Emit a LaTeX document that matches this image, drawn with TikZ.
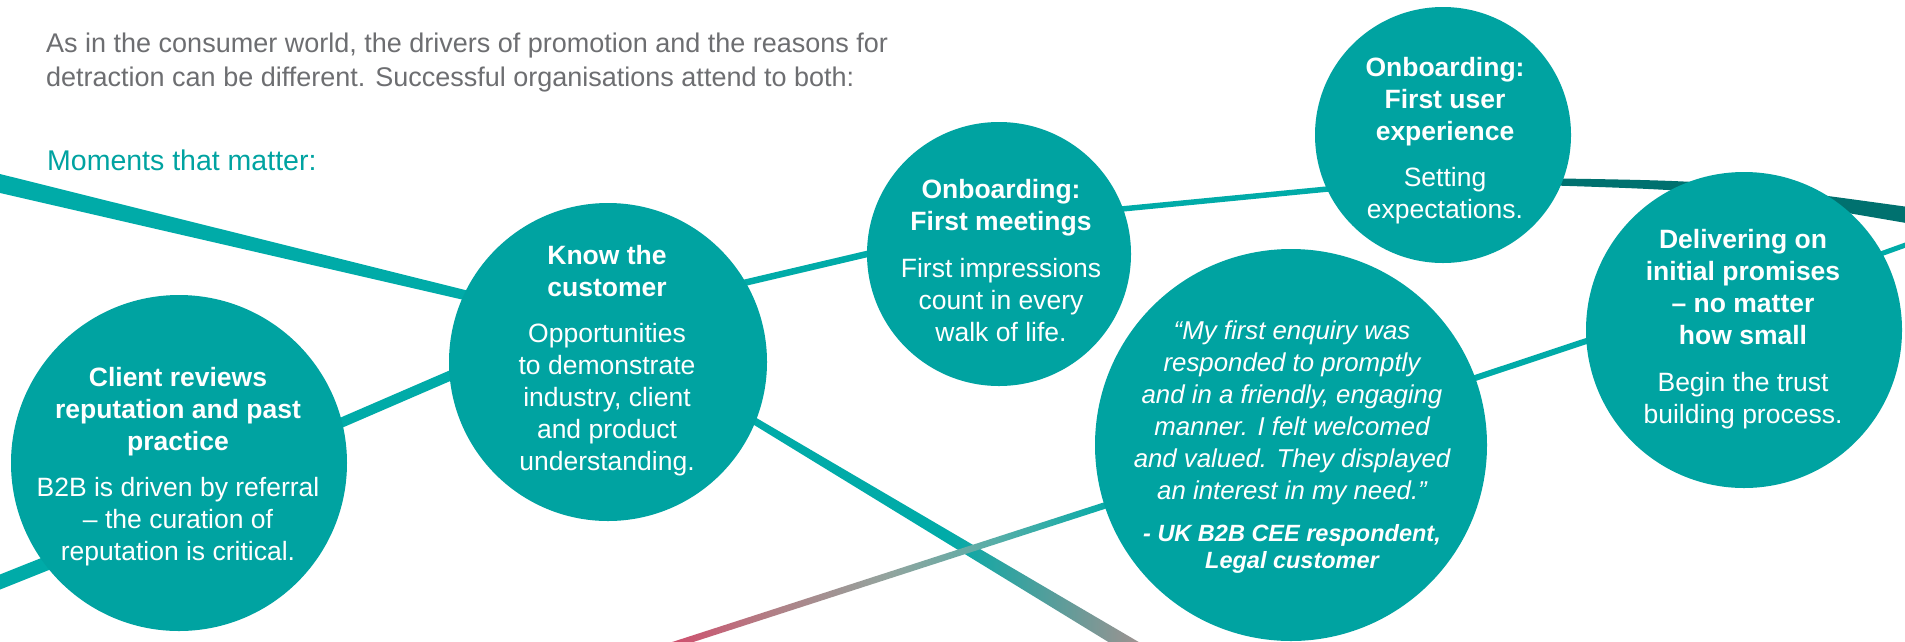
\documentclass[tikz,border=0pt]{standalone}
\usepackage{fontspec}
\setmainfont{Liberation Sans}
\usetikzlibrary{calc,backgrounds}
\definecolor{kteal}{HTML}{00A3A1}
\definecolor{lteal}{HTML}{00ABA8}
\definecolor{dteal}{HTML}{00716F}
\definecolor{kpink}{HTML}{D4486A}
\definecolor{krose}{HTML}{B27E85}
\definecolor{kgreyteal}{HTML}{93A49E}
\definecolor{klteal}{HTML}{55AEA8}
\definecolor{kmauve}{HTML}{A6918F}
\definecolor{titlegrey}{HTML}{6D6E71}
\pgfdeclarehorizontalshading{tealfade}{100bp}{color(0bp)=(lteal); color(50bp)=(lteal); color(75bp)=(kmauve); color(100bp)=(kmauve)}
\pgfdeclarehorizontalshading{pinkfade}{100bp}{color(0bp)=(kpink); color(25bp)=(kpink); color(37bp)=(krose); color(50bp)=(kgreyteal); color(62bp)=(klteal); color(75bp)=(lteal); color(100bp)=(lteal)}
\newcommand{\mystrut}[1]{\rule{0pt}{#1pt}}
\tikzset{
  moment/.style={circle, fill=kteal, inner sep=0pt, outer sep=0pt},
  txt/.style={anchor=north, align=center, inner sep=0pt, text=white},
  headtxt/.style={txt, font=\fontsize{26.5}{32}\selectfont\bfseries},
  bodytxt/.style={txt, font=\fontsize{26.5}{32}\selectfont},
  quotetxt/.style={txt, font=\fontsize{25.8}{32}\selectfont\itshape},
  attrtxt/.style={txt, font=\fontsize{23.5}{27}\selectfont\bfseries\itshape},
  link/.style={lteal, shorten <=-8pt, shorten >=-8pt}
}
\begin{document}
\begin{tikzpicture}[x=1pt, y=-1pt]
\useasboundingbox (0,0) rectangle (1905,641);

% header texts
\node[anchor=north west, align=left, inner sep=0pt, text=titlegrey,
      font=\fontsize{27}{34}\selectfont] (title) at (46,25.5)
  {\mystrut{27}As in the consumer world, the drivers of promotion and the reasons for\\detraction can be different. Successful organisations attend to both:};
\node[anchor=north west, inner sep=0pt, text=kteal,
      font=\fontsize{28.5}{34}\selectfont] (moments) at (47,141.5)
  {\mystrut{28.5}Moments that matter:};

% circles
\node[moment, minimum size=336pt] (A) at (179,463) {};
\node[moment, minimum size=318pt] (B) at (608,362) {};
\node[moment, minimum size=264pt] (C) at (999,254) {};
\node[moment, minimum size=256pt] (D) at (1443,135) {};
\node[moment, minimum size=392pt] (E) at (1291,445) {};
\node[moment, minimum size=316pt] (F) at (1744,330) {};

% circle texts
\node[headtxt] (Ah) at (178,359.8) {\mystrut{26.5}Client reviews\\reputation and past\\practice};
\node[bodytxt] (Ab) at (178,469.8) {\mystrut{26.5}B2B is driven by referral\\– the curation of\\reputation is critical.};
\node[headtxt] (Bh) at (607,237.8) {\mystrut{26.5}Know the\\customer};
\node[bodytxt] (Bb) at (607,315.8) {\mystrut{26.5}Opportunities\\to demonstrate\\industry, client\\and product\\understanding.};
\node[headtxt] (Ch) at (1001,171.8) {\mystrut{26.5}Onboarding:\\First meetings};
\node[bodytxt] (Cb) at (1001,250.8) {\mystrut{26.5}First impressions\\count in every\\walk of life.};
\node[headtxt] (Dh) at (1445,49.8) {\mystrut{26.5}Onboarding:\\First user\\experience};
\node[bodytxt] (Db) at (1445,159.8) {\mystrut{26.5}Setting\\expectations.};
\node[quotetxt] (Eq) at (1292,313.2) {\mystrut{25.8}“My first enquiry was\\responded to promptly\\and in a friendly, engaging\\manner. I felt welcomed\\and valued. They displayed\\an interest in my need.”};
\node[attrtxt] (Ea) at (1292,517.7) {\mystrut{23.5}- UK B2B CEE respondent,\\Legal customer};
\node[headtxt] (Fh) at (1743,221.8) {\mystrut{26.5}Delivering on\\initial promises\\– no matter\\how small};
\node[bodytxt] (Fb) at (1743,364.8) {\mystrut{26.5}Begin the trust\\building process.};

% connecting lines behind the circles
\begin{pgfonlayer}{background}
  \fill[white] (0,0) rectangle (1905,641);
  % path 1: top left -> B -> C -> D -> right edge
  \coordinate (L1) at (0,183);
  \coordinate (b1) at ($(B.155)!-14pt!(L1)$);
  \fill[lteal] ($(L1)+(-2,-9.5)$) -- ($(b1)+(0,-5)$) -- ($(b1)+(0,5)$) -- ($(L1)+(-2,9.5)$) -- cycle;
  \draw[link, line width=6.5pt] (B.30) -- (C.180);
  \draw[link, line width=5.5pt] (C.20) -- (D.205);
  \coordinate (R1) at (1905,215);
  \coordinate (d1) at ($(D.-22)!-12pt!(R1)$);
  \fill[dteal] ($(d1)+(0,-3.5)$) .. controls (1720,181) .. ($(R1)+(7,-7.5)$)
     -- ($(R1)+(7,9)$) .. controls (1720,191) .. ($(d1)+(0,3.5)$) -- cycle;
  % path 2: bottom left -> A -> B -> bottom
  \coordinate (L2) at (0,582);
  \draw[lteal, line width=14pt, shorten <=-10pt, shorten >=-10pt] (L2) -- (A.217);
  \draw[link, line width=10pt] (A.14) -- (B.185);
  \coordinate (L3) at (1145,655);
  \coordinate (b2) at ($(B.-22.5)!-12pt!(L3)$);
  \shade[shading=tealfade] ($(b2)+(1.8,-3)$) -- ($(L3)+(4.1,-6.9)$) -- ($(L3)+(-4.1,6.9)$) -- ($(b2)+(-1.8,3)$) -- cycle;
  % path 3: bottom (pink) -> E -> F -> right edge
  \coordinate (L4) at (658,650);
  \coordinate (e1) at ($(E.198)!-12pt!(L4)$);
  \shade[shading=pinkfade]
     ($(L4)+(-1,-3.1)$) -- ($(e1)+(-1,-3.1)$) -- ($(e1)+(1,3.1)$) -- ($(L4)+(1,3.1)$) -- cycle;
  \draw[link, line width=6pt] (E.20) -- (F.184);
  \coordinate (R2) at (1925,238);
  \draw[lteal, line width=5pt, shorten <=-8pt] (F.29) -- (R2);
\end{pgfonlayer}
\end{tikzpicture}
\end{document}
